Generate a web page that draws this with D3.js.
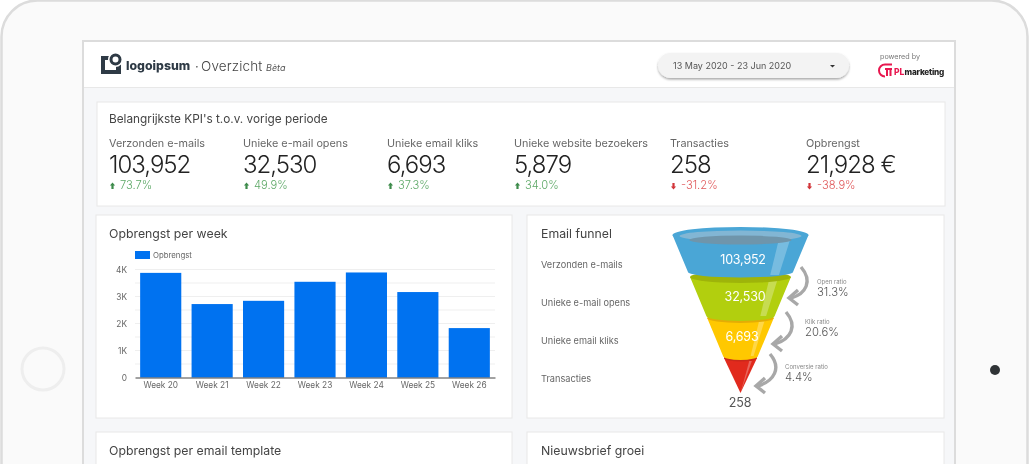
<!DOCTYPE html>
<html>
<head>
<meta charset="utf-8">
<title>Overzicht</title>
<script src="https://cdn.jsdelivr.net/npm/d3@7"></script>
<style>
  html, body { margin: 0; background: #fff; overflow: hidden; }
  svg { display: block; font-family: Inter, "Open Sans", sans-serif; filter: blur(0.3px); }
  .axis text { font-family: Inter, sans-serif; font-size: 8.3px; fill: #666; }
</style>
</head>
<body>
<svg id="page" width="1030" height="464"></svg>
<script>
// kpi row
var kpiLabels = ["Verzonden e-mails", "Unieke e-mail opens", "Unieke email kliks", "Unieke website bezoekers", "Transacties", "Opbrengst"];
var kpiValues = [103952, 32530, 6693, 5879, 258, 21928];
var kpiDeltas = [73.7, 49.9, 37.3, 34.0, -31.2, -38.9];
var kpiSuffix = ["", "", "", "", "", " €"];

// bars
var weeks = ["Week 20", "Week 21", "Week 22", "Week 23", "Week 24", "Week 25", "Week 26"];
var revenue = [3875, 2720, 2840, 3545, 3890, 3165, 1830];
var revenueTicks = [0, 1000, 2000, 3000, 4000];

// funnel
var stages = ["Verzonden e-mails", "Unieke e-mail opens", "Unieke email kliks", "Transacties"];
var stageValues = [103952, 32530, 6693, 258];
var ratioLabels = ["Open ratio", "Klik ratio", "Conversie ratio"];
var ratioValues = [31.3, 20.6, 4.4];

var svg = d3.select("#page");
var fmt = d3.format(",");
var DARK = "#222", GREEN = "#5ca866", RED = "#e0585a", BLUE = "#0072f0";

function label(g, x, y, s, size, color, opts) {
  opts = opts || {};
  return g.append("text").attr("x", x).attr("y", y).text(s)
    .attr("font-size", size).attr("fill", color)
    .attr("font-weight", opts.weight || 400)
    .attr("font-style", opts.style || "normal")
    .attr("text-anchor", opts.anchor || "start")
    .attr("letter-spacing", opts.ls || 0);
}

// tablet shell
svg.append("rect").attr("x", 1.5).attr("y", 0.5).attr("width", 1026).attr("height", 520).attr("rx", 36)
  .attr("fill", "#fafafa").attr("stroke", "#dcdcdc").attr("stroke-width", 2.5);
svg.append("circle").attr("cx", 43).attr("cy", 369).attr("r", 21).attr("fill", "none").attr("stroke", "#eeeeee").attr("stroke-width", 3);
svg.append("circle").attr("cx", 995).attr("cy", 370).attr("r", 5).attr("fill", "#2f3336");

// screen
svg.append("rect").attr("x", 83).attr("y", 41).attr("width", 872).attr("height", 440)
  .attr("fill", "#f6f7f9").attr("stroke", "#dcdcdc").attr("stroke-width", 2);
svg.append("rect").attr("x", 84).attr("y", 42).attr("width", 870).attr("height", 45).attr("fill", "#fff");
svg.append("line").attr("x1", 84).attr("x2", 954).attr("y1", 87.5).attr("y2", 87.5).attr("stroke", "#e8e8e8");

// header left
var head = svg.append("g");
head.append("rect").attr("x", 101).attr("y", 56).attr("width", 20).attr("height", 18).attr("fill", "#2e3a45");
head.append("rect").attr("x", 105).attr("y", 60).attr("width", 11).attr("height", 10).attr("fill", "#fff");
head.append("circle").attr("cx", 115.5).attr("cy", 59.5).attr("r", 7.5).attr("fill", "#fff");
head.append("circle").attr("cx", 115.5).attr("cy", 59.5).attr("r", 4.5).attr("fill", "none").attr("stroke", "#2e3a45").attr("stroke-width", 3);
label(head, 126, 70, "logoipsum", 12.3, "#2e3a45", {weight: 800});
label(head, 195, 71, "·", 13, "#555");
label(head, 201, 71, "Overzicht", 13.5, "#444", {ls: 0.15, weight: 300});
label(head, 266, 71, "Bèta", 9, "#555", {style: "italic"});

// date picker
var shadow = svg.append("defs").append("filter").attr("id", "pill").attr("x", "-10%").attr("y", "-30%").attr("width", "120%").attr("height", "170%");
shadow.append("feDropShadow").attr("dx", 0).attr("dy", 1.5).attr("stdDeviation", 1.2).attr("flood-color", "#000").attr("flood-opacity", 0.35);
svg.append("rect").attr("x", 658).attr("y", 53).attr("width", 191).attr("height", 25).attr("rx", 12.5).attr("fill", "#f3f3f3").attr("filter", "url(#pill)");
label(svg, 673, 69, "13 May 2020 - 23 Jun 2020", 9, "#555");
svg.append("path").attr("d", d3.line()([[830, 65], [835, 65], [832.5, 67.5]])).attr("fill", "#333");

// powered by
label(svg, 880, 59, "powered by", 7.2, "#777");
var brand = svg.append("g").attr("fill", "none").attr("stroke", "#e8174f").attr("stroke-width", 2);
brand.append("path").attr("d", "M885 76.5 a6 6 0 0 1 -6 -6 a6 6 0 0 1 6 -6 h7");
brand.append("path").attr("d", "M885 69 h7 M887 69 v7 M890.5 69 v7");
label(svg, 894, 75, "PL", 8.5, "#e8174f", {weight: 800});
label(svg, 904.5, 75, "marketing", 8.2, "#222", {weight: 800, ls: -0.2});

// panels
var panels = [[97, 102, 848, 104], [96, 215, 416, 203], [527, 215, 417, 203], [96, 432, 416, 60], [527, 432, 417, 60]];
svg.append("g").selectAll("rect").data(panels).join("rect")
  .attr("x", function(d) { return d[0]; }).attr("y", function(d) { return d[1]; })
  .attr("width", function(d) { return d[2]; }).attr("height", function(d) { return d[3]; })
  .attr("fill", "#fff").attr("stroke", "#e8e8e8");

label(svg, 109, 122.5, "Belangrijkste KPI's t.o.v. vorige periode", 11.8, "#444");
label(svg, 109, 237.5, "Opbrengst per week", 12.3, "#444");
label(svg, 541, 237.5, "Email funnel", 12.3, "#444");
label(svg, 109, 454.5, "Opbrengst per email template", 12.3, "#444");
label(svg, 541, 454.5, "Nieuwsbrief groei", 12.3, "#444");

// kpis
var kpiX = [109, 243, 387, 514, 670, 806];
kpiLabels.forEach(function(name, i) {
  var g = svg.append("g").attr("transform", "translate(" + kpiX[i] + ",0)");
  var d = kpiDeltas[i], up = d >= 0, col = up ? GREEN : RED;
  label(g, 0, 147, name, 10.8, "#666");
  label(g, 0, 173, fmt(kpiValues[i]) + kpiSuffix[i], 24, DARK, {ls: -1, weight: 300});
  g.append("path").attr("fill", up ? "#3d8b4a" : "#d2353a")
    .attr("d", up ? "M3.5 182.5 l2.6 3 h-1.5 v3.5 h-2.2 v-3.5 h-1.5z" : "M3.5 189.5 l2.6 -3 h-1.5 v-3.5 h-2.2 v3.5 h-1.5z");
  label(g, 11, 189, (up ? "" : "-") + d3.format(".1f")(Math.abs(d)) + "%", 11.2, col, {weight: 300});
});

// bar chart
var x = d3.scaleBand().domain(weeks).range([135, 495]).paddingInner(0.2).paddingOuter(0.1);
var y = d3.scaleLinear().domain([0, 4000]).range([377.5, 269.5]);

svg.append("g").selectAll("line").data(d3.range(500, 4001, 500)).join("line")
  .attr("x1", 135).attr("x2", 495)
  .attr("y1", function(d) { return y(d); }).attr("y2", function(d) { return y(d); })
  .attr("stroke", "#efefef");

svg.append("g").selectAll("rect").data(revenue).join("rect")
  .attr("x", function(d, i) { return x(weeks[i]); })
  .attr("width", x.bandwidth())
  .attr("y", function(d) { return y(d); })
  .attr("height", function(d) { return y(0) - y(d); })
  .attr("fill", BLUE);

var yAxis = svg.append("g").attr("class", "axis").attr("transform", "translate(135,0)")
  .call(d3.axisLeft(y).tickValues(revenueTicks).tickSize(0).tickPadding(8).tickFormat(function(d) { return d ? d / 1000 + "K" : "0"; }));
yAxis.select(".domain").remove();
var xAxis = svg.append("g").attr("class", "axis").attr("transform", "translate(0,377.5)")
  .call(d3.axisBottom(x).tickSize(0).tickPadding(5));
xAxis.select(".domain").attr("stroke", "#444");

svg.append("rect").attr("x", 135).attr("y", 251).attr("width", 15).attr("height", 8).attr("fill", BLUE);
label(svg, 153, 258, "Opbrengst", 7.8, "#666");

// funnel
var cx = 740.5;
var halfW = d3.scaleLinear().domain([393, 357, 235]).range([0, 17, 68]);
var seg = [
  {top: 277, bot: 316, ry: 5, fill: "#b2cf0e", rim: "#9eb40a"},
  {top: 318, bot: 356, ry: 4, fill: "#ffc800", rim: "#e3ad05"},
  {top: 358, bot: 393, ry: 2.5, fill: "#e12a1d", rim: "#c9281c"}
];
// drawn bottom-up so each stage overlaps the rim below it
var fun = svg.append("g");
function body(t, b, ry) {
  var wt = halfW(t), wb = halfW(b);
  return "M" + (cx - wt) + " " + t + " L" + (cx - wb) + " " + b +
    " A" + wb + " " + ry + " 0 0 0 " + (cx + wb) + " " + b +
    " L" + (cx + wt) + " " + t + " Z";
}
function streak(t, b) {
  var a = 0.58, c = 0.75;
  return d3.line()([[cx + halfW(t) * a, t], [cx + halfW(t) * c, t], [cx + halfW(b) * c, b], [cx + halfW(b) * a, b]]);
}
seg.slice().reverse().forEach(function(s) {
  fun.append("path").attr("d", body(s.top, s.bot, s.bot === 393 ? 0 : s.ry)).attr("fill", s.fill);
  fun.append("path").attr("d", streak(s.top + 3, s.bot)).attr("fill", "#fff").attr("opacity", 0.28);
  fun.append("ellipse").attr("cx", cx).attr("cy", s.top).attr("rx", halfW(s.top)).attr("ry", s.ry + 1).attr("fill", s.rim);
});
fun.append("path").attr("d", body(235, 272, 5.5)).attr("fill", "#4aa6d6");
fun.append("path").attr("d", streak(238, 275)).attr("fill", "#fff").attr("opacity", 0.25);
fun.append("ellipse").attr("cx", cx).attr("cy", 235).attr("rx", 68).attr("ry", 8).attr("fill", "#4aa6d6");
fun.append("ellipse").attr("cx", cx).attr("cy", 236).attr("rx", 61).attr("ry", 5.5).attr("fill", "#82b6d4");
fun.append("ellipse").attr("cx", cx).attr("cy", 240).attr("rx", 51).attr("ry", 4.5).attr("fill", "#6f95ab");

var stageY = [267.5, 305.5, 343.5, 381.5];
var valueX = [743, 745, 742, 740];
var valueY = [264, 301, 341, 407];
stages.forEach(function(name, i) {
  label(svg, 541, stageY[i], name, 9.2, "#666");
  label(svg, valueX[i], valueY[i], fmt(stageValues[i]), 12.5, i < 3 ? "#fff" : "#555", {anchor: "middle", ls: -0.2});
});

// ratio arrows
var arrowShapes = [
  "M801 267 C813 281 806 294 791 298",
  "M786 312 C798 326 791 339 775 344",
  "M770 354 C782 368 774 381 758 386"
];
var headShapes = [[9, -8], [9, 7]];
var ratioX = [817, 805, 785];
var ratioY = [293, 333, 378];
ratioLabels.forEach(function(name, i) {
  var g = svg.append("g").attr("fill", "none").attr("stroke", "#a8a8a8").attr("stroke-width", 3.4);
  g.append("path").attr("d", arrowShapes[i]);
  var end = arrowShapes[i].split(" ").slice(-2).map(Number);
  g.append("path").attr("d", d3.line()([[end[0] + headShapes[0][0] - 2, end[1] + headShapes[0][1]], [end[0] - 2, end[1]], [end[0] + headShapes[1][0] - 2, end[1] + headShapes[1][1]]]));
  label(svg, ratioX[i], ratioY[i] - 9, name, 6, "#888");
  label(svg, ratioX[i], ratioY[i] + 3, ratioValues[i] + "%", 11.3, "#555", {weight: 300});
});
</script>
</body>
</html>
